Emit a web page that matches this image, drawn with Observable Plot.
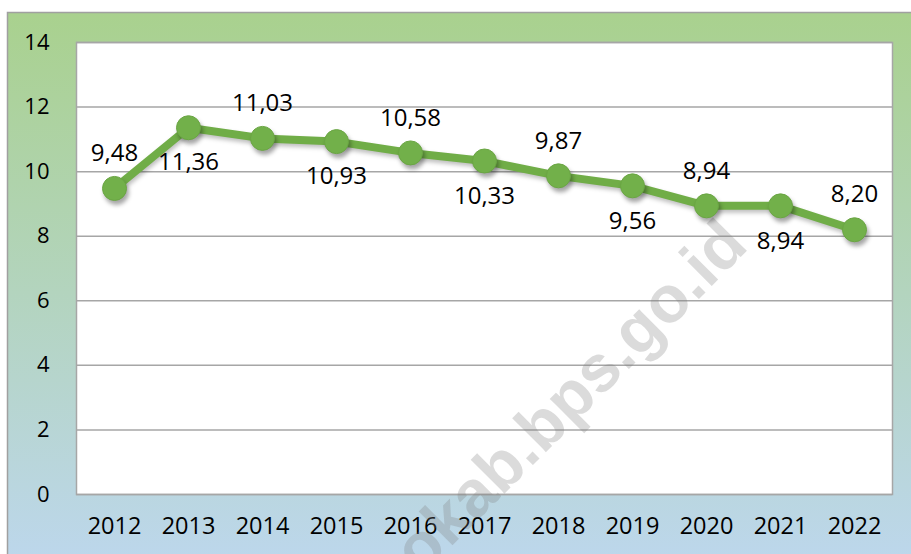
<!DOCTYPE html>
<html>
<head>
<meta charset="utf-8">
<script src="https://cdn.jsdelivr.net/npm/d3@7"></script>
<script src="https://cdn.jsdelivr.net/npm/@observablehq/plot@0.6"></script>
<style>
  html, body { margin: 0; padding: 0; background: #ffffff; }
  #chart svg g[aria-label="dot"] { filter: drop-shadow(2px 4px 2px rgba(0,0,0,0.35)); }
  #chart svg g[aria-label="line"] { filter: drop-shadow(1px 3px 2px rgba(0,0,0,0.25)); }
</style>
</head>
<body>
<div id="chart"></div>
<script>
// ---- data ----
const years = ["2012", "2013", "2014", "2015", "2016", "2017", "2018", "2019", "2020", "2021", "2022"];
const values = [9.48, 11.36, 11.03, 10.93, 10.58, 10.33, 9.87, 9.56, 8.94, 8.94, 8.20];
const valueLabels = ["9,48", "11,36", "11,03", "10,93", "10,58", "10,33", "9,87", "9,56", "8,94", "8,94", "8,20"];
const labelPlacement = ["above", "below", "above", "below", "above", "below", "above", "below", "above", "below", "above"];
const yTicks = [0, 2, 4, 6, 8, 10, 12, 14];
const watermark = ["okab.bps.go.id"];

const data = years.map((year, i) => ({
  year,
  value: values[i],
  label: valueLabels[i],
  place: labelPlacement[i]
}));

const green = "#70ad47";
const gridColor = "#a6a6a6";

const chart = Plot.plot({
  width: 911,
  height: 554,
  marginLeft: 76,
  marginRight: 19,
  marginTop: 42,
  marginBottom: 60,
  style: {
    background: "transparent",
    fontFamily: "'Open Sans', 'Noto Sans', sans-serif",
    fontSize: "22px",
    color: "#000000",
    overflow: "visible"
  },
  x: { type: "point", domain: years, padding: 0.5, label: null },
  y: { domain: [0, 14], label: null },
  marks: [
    Plot.frame({ fill: "#ffffff", stroke: gridColor, strokeWidth: 1.5 }),
    Plot.gridY(yTicks, { stroke: gridColor, strokeOpacity: 1, strokeWidth: 1.5 }),
    Plot.axisY(yTicks, { tickSize: 0, tickPadding: 27, fontSize: 22, label: null, tickFormat: d => String(d) }),
    Plot.axisX({ tickSize: 0, tickPadding: 23, fontSize: 23.5, label: null }),
    Plot.text(watermark, {
      frameAnchor: "middle",
      text: d => d,
      rotate: -45,
      dx: 86,
      dy: 129,
      fontSize: 66,
      fontWeight: "bold",
      fontFamily: "'Liberation Sans', Arial, sans-serif",
      fill: "#7f7f7f",
      fillOpacity: 0.28
    }),
    Plot.line(data, { x: "year", y: "value", stroke: green, strokeWidth: 8, strokeLinejoin: "round" }),
    Plot.dot(data, { x: "year", y: "value", r: 12, fill: "#72b04a", stroke: "#6aa543", strokeWidth: 1 }),
    Plot.text(data.filter(d => d.place === "above"), { x: "year", y: "value", text: "label", dy: -35, fontSize: 24, fill: "#000000" }),
    Plot.text(data.filter(d => d.place === "below"), { x: "year", y: "value", text: "label", dy: 35, fontSize: 24, fill: "#000000" })
  ]
});

// outer chart-area background (gradient panel with thin border)
const svg = d3.select(chart);
const defs = svg.insert("defs", ":first-child");
const grad = defs.append("linearGradient")
  .attr("id", "bgGrad").attr("x1", 0).attr("y1", 0).attr("x2", 0).attr("y2", 1);
grad.append("stop").attr("offset", "0%").attr("stop-color", "#a9d18e");
grad.append("stop").attr("offset", "100%").attr("stop-color", "#bdd7ee");
svg.insert("rect", "defs + *")
  .attr("x", 7.5).attr("y", 12.5)
  .attr("width", 920).attr("height", 560)
  .attr("fill", "url(#bgGrad)")
  .attr("stroke", "#a0a0a0")
  .attr("stroke-width", 1.5);

document.getElementById("chart").appendChild(chart);
</script>
</body>
</html>
